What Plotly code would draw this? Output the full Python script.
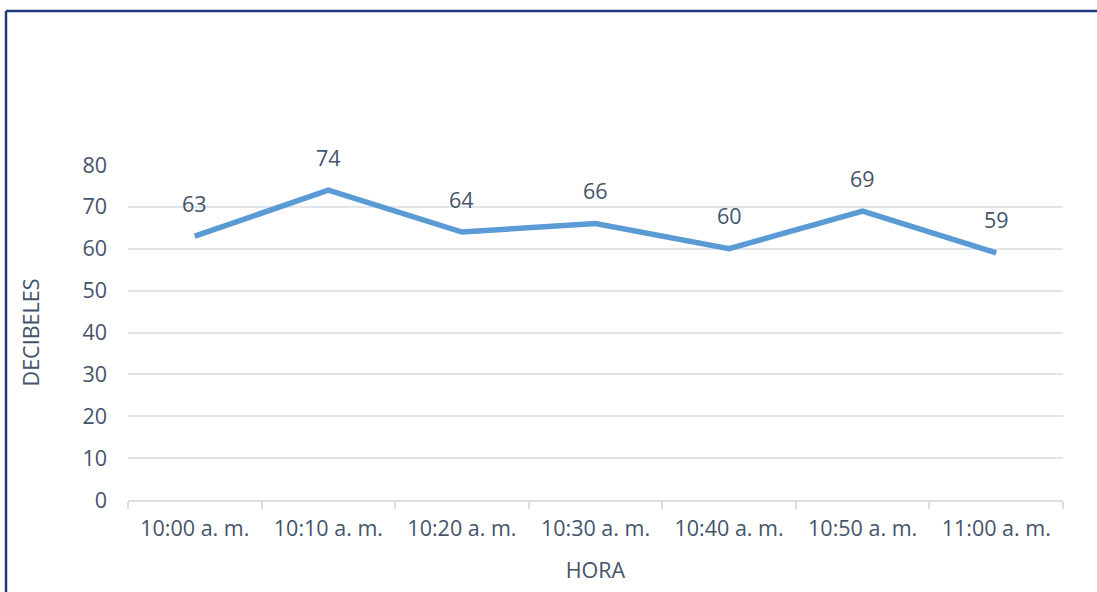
import plotly.graph_objects as go

# Noise level readings by time of day
horas = ["10:00 a. m.", "10:10 a. m.", "10:20 a. m.", "10:30 a. m.",
         "10:40 a. m.", "10:50 a. m.", "11:00 a. m."]
decibeles = [63, 74, 64, 66, 60, 69, 59]
y_ticks = [0, 10, 20, 30, 40, 50, 60, 70, 80]

W, H = 1097, 592
M_L, M_R, M_T, M_B = 128, 34, 165, 92

TEXT = "#44546A"
GRID = "#E1E5EA"
LINE = "#5B9BD5"
FONT = "Open Sans"
FS = 21.5

fig = go.Figure()
fig.add_trace(go.Scatter(
    x=horas, y=decibeles, mode="lines",
    line=dict(color=LINE, width=5.5),
    hoverinfo="skip", showlegend=False, cliponaxis=False,
))

# value labels above each point
for h, v in zip(horas, decibeles):
    fig.add_annotation(x=h, y=v, text=str(v), showarrow=False,
                       yshift=33, font=dict(family=FONT, size=FS, color=TEXT))

# frame lines along the top and left edge
px = lambda p: (p - M_L) / (W - M_L - M_R)
py = lambda p: 1 - (p - M_T) / (H - M_T - M_B)
fig.add_shape(type="line", xref="paper", yref="paper",
              x0=px(6), x1=px(W + 5), y0=py(11), y1=py(11),
              line=dict(color="#1F3B7E", width=2.5))
fig.add_shape(type="line", xref="paper", yref="paper",
              x0=px(6), x1=px(6), y0=py(11), y1=py(H + 5),
              line=dict(color="#1F3B7E", width=2.5))

fig.update_layout(
    width=W, height=H,
    margin=dict(l=M_L, r=M_R, t=M_T, b=M_B, autoexpand=False),
    paper_bgcolor="white", plot_bgcolor="white",
    font=dict(family=FONT, size=FS, color=TEXT),
    xaxis=dict(
        type="category", range=[-0.5, len(horas) - 0.5],
        showgrid=False, zeroline=False, automargin=False,
        showline=True, linecolor="#D9DDE3", linewidth=2,
        ticks="outside", tickson="boundaries", ticklen=7,
        tickcolor="#D9DDE3", tickwidth=2, ticklabelstandoff=8,
        tickfont=dict(family=FONT, size=FS, color=TEXT),
        title=dict(text="HORA", standoff=22,
                   font=dict(family=FONT, size=FS, color=TEXT)),
        fixedrange=True,
    ),
    yaxis=dict(
        range=[0, 80], tickvals=y_ticks, showgrid=True, automargin=False,
        gridcolor=GRID, gridwidth=1.5, zeroline=False, showline=False,
        ticks="", ticklabelstandoff=20,
        tickfont=dict(family=FONT, size=FS, color=TEXT),
        title=dict(text="DECIBELES", standoff=36,
                   font=dict(family=FONT, size=FS, color=TEXT)),
        fixedrange=True,
    ),
)

fig.write_html("out.html", config={"displayModeBar": False})
